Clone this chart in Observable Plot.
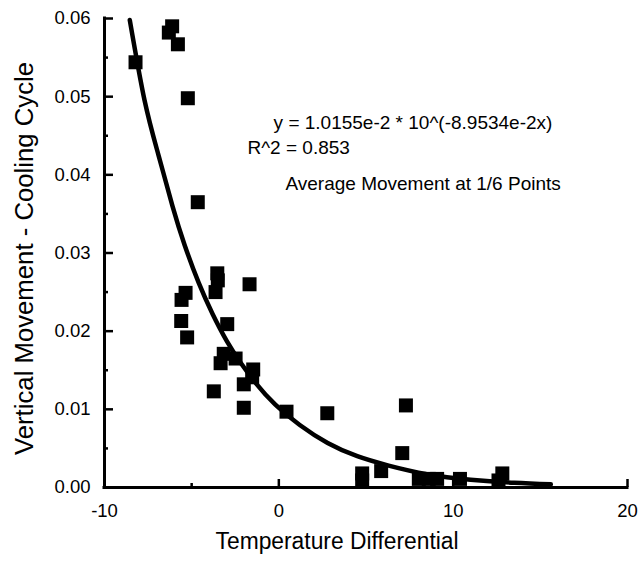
<!DOCTYPE html>
<html><head><meta charset="utf-8">
<script src="https://cdn.jsdelivr.net/npm/d3@7"></script>
<script src="https://cdn.jsdelivr.net/npm/@observablehq/plot@0.6"></script>
<style>body{margin:0;background:#fff}</style>
</head><body><div id="chart"></div>
<script>
// Measured points (Temperature Differential, Vertical Movement)
const pointX = [-8.22,-6.12,-6.31,-5.79,-5.22,-4.65,-3.53,-3.50,-3.63,-1.68,-5.35,-5.58,-5.60,-5.26,-2.96,-3.16,-3.34,-2.48,-1.47,-2.01,-1.53,-3.73,-2.01,0.44,2.78,7.29,7.08,4.78,4.78,5.87,8.03,8.60,9.08,10.39,12.82,12.60];
const pointY = [0.0544,0.0590,0.0582,0.0567,0.0498,0.0365,0.0274,0.0265,0.0250,0.0260,0.0249,0.0240,0.0213,0.0192,0.0209,0.0171,0.0159,0.0165,0.0151,0.0132,0.0141,0.0123,0.0102,0.0097,0.0095,0.0105,0.0044,0.0018,0.0009,0.0021,0.0011,0.0011,0.0011,0.0011,0.0018,0.0009];
// Fitted curve
const fitX = [-8.55,-7.7,-6.9,-6.1,-5.4,-4.6,-3.8,-3.0,-2.2,-1.3,-0.2,1.2,2.8,4.5,6.3,8.5,11.0,13.5,15.6];
const fitY = [0.0598,0.0495,0.0425,0.0360,0.0310,0.0262,0.0222,0.0188,0.0160,0.0133,0.0106,0.0080,0.0057,0.0040,0.0028,0.0017,0.0010,0.0006,0.0004];
const xTicks = [-10,0,10,20];
const xMinorTicks = [-5,5,15];
const yTicks = [0,0.01,0.02,0.03,0.04,0.05,0.06];
const yMinorTicks = [0.005,0.015,0.025,0.035,0.045,0.055];
const notes = ["y = 1.0155e-2 * 10^(-8.9534e-2x)","R^2 = 0.853","Average Movement at 1/6 Points"];
const noteX = [-0.3,-1.8,0.38];
const noteY = [0.0467,0.0435,0.0388];
const xLabel = "Temperature Differential";
const yLabel = "Vertical Movement - Cooling Cycle";

const points = pointX.map((x,i)=>({x, y: pointY[i]}));
const fit = fitX.map((x,i)=>({x, y: fitY[i]}));
const noteData = notes.map((t,i)=>({t, x: noteX[i], y: noteY[i]}));

const W = 639, H = 561, ML = 104, MR = 12, MT = 18, MB = 74;
const FW = W - ML - MR, FH = H - MT - MB;

const chart = Plot.plot({
  width: W, height: H,
  marginLeft: ML, marginRight: MR, marginTop: MT, marginBottom: MB,
  style: {fontFamily: "'Liberation Sans', Arial, Helvetica, sans-serif", background: "white", color: "black", overflow: "visible"},
  x: {domain: [-10, 20]},
  y: {domain: [0, 0.06]},
  marks: [
    Plot.axisX({ticks: xTicks, tickSize: 0, tickPadding: 16, fontSize: 18.5, label: null, tickFormat: d => String(d)}),
    Plot.axisY({ticks: yTicks, tickSize: 0, tickPadding: 14, fontSize: 18.5, label: null, tickFormat: d3.format(".2f")}),
    // inward tick marks
    Plot.ruleX(xTicks, {x: d => d, insetTop: FH - 8, strokeWidth: 2.5, stroke: "black"}),
    Plot.ruleX(xMinorTicks, {x: d => d, insetTop: FH - 4, strokeWidth: 2.5, stroke: "black"}),
    Plot.ruleY(yTicks, {y: d => d, insetRight: FW - 9, strokeWidth: 2.5, stroke: "black"}),
    Plot.ruleY(yMinorTicks, {y: d => d, insetRight: FW - 4, strokeWidth: 2.5, stroke: "black"}),
    Plot.ruleY([0], {strokeWidth: 3, strokeLinecap: "square"}),
    Plot.ruleX([-10], {strokeWidth: 3, strokeLinecap: "square"}),
    Plot.line(fit, {x: "x", y: "y", curve: "natural", strokeWidth: 4.5, stroke: "black"}),
    Plot.dot(points, {x: "x", y: "y", symbol: "square", r: 7.9, fill: "black", stroke: "none"}),
    Plot.text(noteData, {x: "x", y: "y", text: "t", textAnchor: "start", fontSize: 19, fill: "black"}),
    Plot.text([{t: xLabel, x: 3.34}], {x: "x", text: "t", frameAnchor: "bottom", textAnchor: "middle", dy: 61, lineAnchor: "bottom", fontSize: 23, fill: "black"}),
    Plot.text([{t: yLabel, y: 0.0293}], {y: "y", text: "t", frameAnchor: "left", textAnchor: "middle", dx: -72, rotate: -90, lineAnchor: "bottom", fontSize: 25, fill: "black"})
  ]
});
chart.querySelectorAll("text").forEach(t => {
  if (t.textContent === xLabel) { t.setAttribute("textLength", 243); t.setAttribute("lengthAdjust", "spacingAndGlyphs"); }
  if (t.textContent === yLabel) { t.setAttribute("textLength", 393); t.setAttribute("lengthAdjust", "spacingAndGlyphs"); }
});
document.getElementById("chart").append(chart);
</script>
</body></html>
